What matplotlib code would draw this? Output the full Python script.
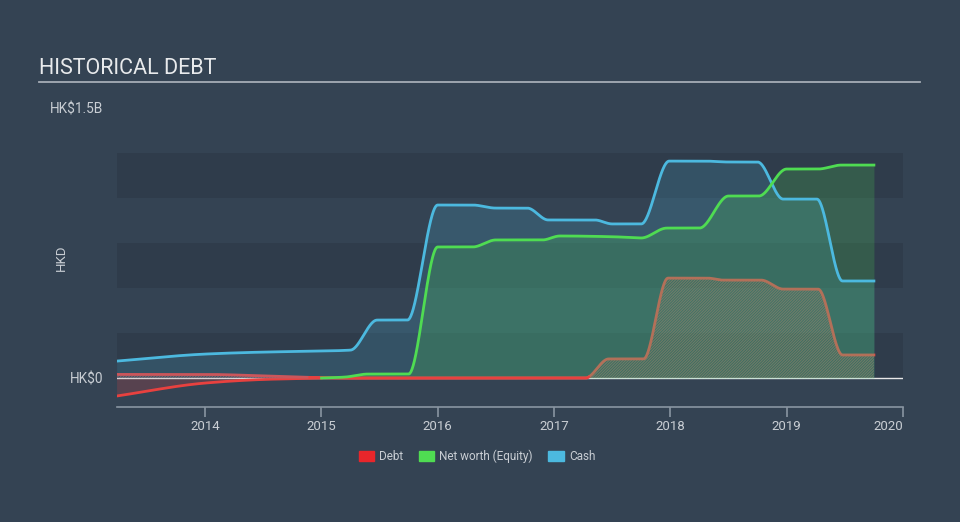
import numpy as np
import matplotlib
matplotlib.use("Agg")
import matplotlib.pyplot as plt
from matplotlib.patches import Patch

# Data (HK$ millions, decimal years)
cash_t = [2013.24, 2014.0, 2014.5, 2015.0, 2015.25, 2015.48, 2015.74, 2016.0, 2016.3, 2016.5,
          2016.77, 2016.95, 2017.35, 2017.5, 2017.75, 2017.99, 2018.3, 2018.5, 2018.75, 2018.97,
          2019.26, 2019.48, 2019.75]
cash_v = [94, 133, 144, 150, 155, 322, 322, 961, 961, 944,
          944, 878, 878, 856, 856, 1205, 1205, 1200, 1200, 994,
          994, 539, 539]

equity_t = [2013.24, 2014.0, 2014.5, 2015.0, 2015.2, 2015.4, 2015.75, 2016.0, 2016.3, 2016.5,
            2016.9, 2017.05, 2017.5, 2017.75, 2017.97, 2018.25, 2018.5, 2018.76, 2019.0,
            2019.27, 2019.47, 2019.75]
equity_v = [-100, -28, -8, 0, 5, 22, 22, 728, 728, 767,
            767, 789, 785, 778, 833, 833, 1011, 1011, 1161,
            1161, 1183, 1183]

debt_t = [2013.24, 2014.0, 2014.5, 2015.0, 2015.25, 2017.27, 2017.47, 2017.77, 2017.98, 2018.32,
          2018.45, 2018.78, 2018.97, 2019.27, 2019.48, 2019.75]
debt_v = [20, 20, 12, 2, 0, 0, 106, 106, 555, 555,
          544, 544, 494, 494, 128, 128]

years = [2014, 2015, 2016, 2017, 2018, 2019, 2020]

BG = "#344353"
BAND = "#2f3c4b"
TXT = "#c9ced4"
C_DEBT = "#e8413f"
C_EQ = "#4fdc52"
C_CASH = "#4cb9df"


def monotone(x, y, xs):
    # monotone cubic (like d3 curveMonotoneX) for the line shape
    x = np.asarray(x, float)
    y = np.asarray(y, float)
    h = np.diff(x)
    d = np.diff(y) / h
    m = np.zeros_like(y)
    m[0], m[-1] = d[0], d[-1]
    for k in range(1, len(y) - 1):
        if d[k - 1] * d[k] > 0:
            w1 = 2 * h[k] + h[k - 1]
            w2 = h[k] + 2 * h[k - 1]
            m[k] = (w1 + w2) / (w1 / d[k - 1] + w2 / d[k])
    idx = np.clip(np.searchsorted(x, xs) - 1, 0, len(x) - 2)
    t = (xs - x[idx]) / h[idx]
    h00 = 2 * t**3 - 3 * t**2 + 1
    h10 = t**3 - 2 * t**2 + t
    h01 = -2 * t**3 + 3 * t**2
    h11 = t**3 - t**2
    return h00 * y[idx] + h10 * h[idx] * m[idx] + h01 * y[idx + 1] + h11 * h[idx] * m[idx + 1]


xs = np.linspace(2013.24, 2019.75, 2000)
cash = monotone(cash_t, cash_v, xs)
eq = monotone(equity_t, equity_v, xs)
debt = monotone(debt_t, debt_v, xs)

plt.rcParams["font.family"] = ["Roboto", "DejaVu Sans"]
plt.rcParams["hatch.linewidth"] = 0.8

fig = plt.figure(figsize=(9.6, 5.22), dpi=100, facecolor=BG)
ax = fig.add_axes([117 / 960, 115 / 522, 786 / 960, 299 / 522])
ax.set_facecolor(BG)

# background bands
for lo in [0, 500, 1000]:
    ax.axhspan(lo, lo + 250, color=BAND, lw=0, zorder=0)

ax.axhline(0, color="#e8e8e8", lw=1, zorder=1)

# debt: hatched area and line
ax.fill_between(xs, 0, debt, facecolor="none", edgecolor="#d8645c", hatch="/" * 12,
                lw=0, alpha=0.5, zorder=2)
ax.plot(xs, debt, color=C_DEBT, lw=2, zorder=2)

# negative equity in red
neg = xs <= 2015.0
ax.fill_between(xs[neg], 0, eq[neg], color=C_DEBT, alpha=0.2, lw=0, zorder=2)
ax.plot(xs[neg], eq[neg], color=C_DEBT, lw=2, zorder=2)

# cash and equity fills
ax.fill_between(xs, 0, cash, color=C_CASH, alpha=0.18, lw=0, zorder=3)
pos = xs >= 2015.0
ax.fill_between(xs[pos], 0, np.maximum(eq[pos], 0), color=C_EQ, alpha=0.2, lw=0, zorder=3)

# zero stretch of the debt line stays bright
zero = (xs >= 2014.9) & (xs <= 2017.3)
ax.plot(xs[zero], debt[zero], color=C_DEBT, lw=2, zorder=3.5)

ax.plot(xs, cash, color=C_CASH, lw=2, zorder=4)
ax.plot(xs[pos], eq[pos], color=C_EQ, lw=2, zorder=4)

ax.set_xlim(2013.2435, 2020.0)
ax.set_ylim(-161, 1500)

for s in ["top", "right", "left"]:
    ax.spines[s].set_visible(False)
ax.spines["bottom"].set_color("#8995a2")
ax.spines["bottom"].set_linewidth(1.2)

ax.set_xticks(years)
ax.set_xticklabels([str(y) for y in years])
ax.tick_params(axis="x", colors="#8995a2", length=7, width=1.2, pad=2,
               labelcolor=TXT, labelsize=9.5)
ax.get_xticklabels()[-1].set_ha("right")

ax.set_yticks([0, 1500])
ax.set_yticklabels(["HK\\$0", "HK\\$1.5B"])
ax.tick_params(axis="y", length=0, pad=10, labelcolor=TXT, labelsize=9.8)
ax.set_ylabel("HKD", color=TXT, fontsize=9.5, labelpad=4)
ax.yaxis.set_label_coords(-0.062, 0.5)

# title with underline
fig.text(39 / 960, 1 - 69 / 522, "HISTORICAL DEBT", color="#e8eaec", fontsize=15.5,
         va="center", ha="left")
fig.add_artist(plt.Line2D([39 / 960, 920 / 960], [1 - 82 / 522, 1 - 82 / 522],
                          color="#a5adb6", lw=1.3))

handles = [Patch(color="#e8262b", label="Debt"),
           Patch(color=C_EQ, label="Net worth (Equity)"),
           Patch(color=C_CASH, label="Cash")]
leg = fig.legend(handles=handles, loc="center", bbox_to_anchor=(477 / 960, 1 - 456 / 522),
                 ncol=3, frameon=False, fontsize=8.5, handlelength=1.3, handleheight=0.9,
                 handletextpad=0.45, columnspacing=1.3)
for t in leg.get_texts():
    t.set_color(TXT)

fig.savefig("out.png", dpi=100, facecolor=BG)
